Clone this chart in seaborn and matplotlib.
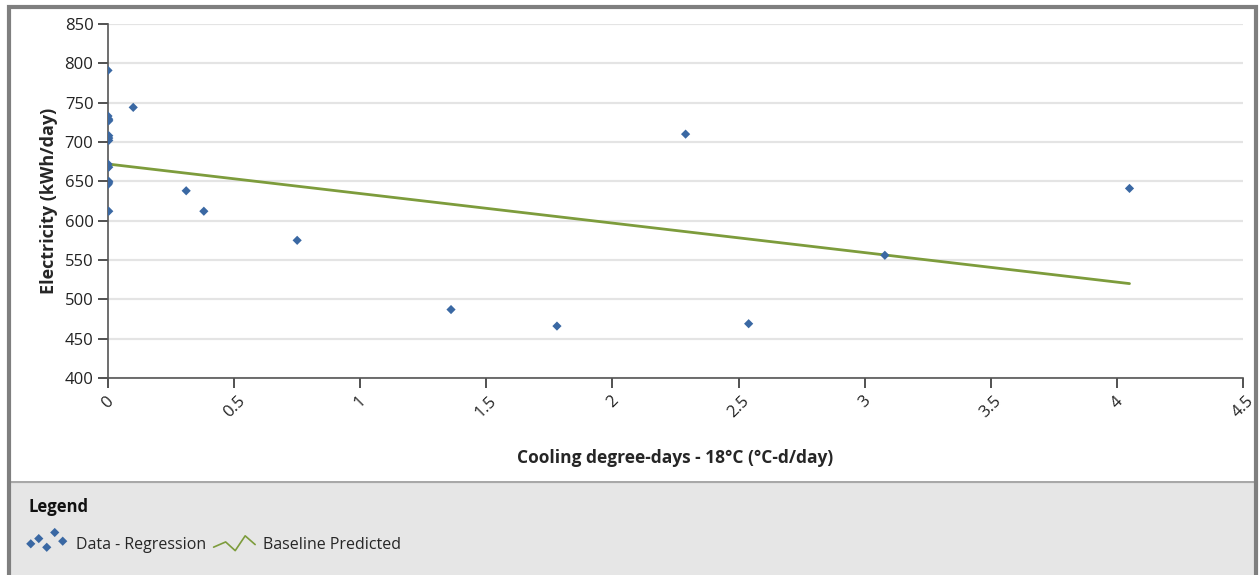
import numpy as np
import pandas as pd
import seaborn as sns
import matplotlib.pyplot as plt
from matplotlib.lines import Line2D
from matplotlib.legend_handler import HandlerBase
from matplotlib.patches import Rectangle

# leituras do gráfico original
cdd = [0.0, 0.0, 0.003, 0.003, 0.003, 0.003, 0.003, 0.0, 0.003, 0.003, 0.003, 0.0, 0.003,
       0.10, 0.31, 0.38, 0.75, 1.36, 1.78, 2.29, 2.54, 3.08, 4.05]
kwh = [791, 733, 729, 727, 708, 705, 702, 672, 668, 650, 648, 646, 612,
       744, 638, 612, 575, 487, 466, 710, 469, 556, 641]

# linha de base prevista (extremos)
base_x = [0.0, 4.05]
base_y = [672, 520]

x_ticks = [0, 0.5, 1, 1.5, 2, 2.5, 3, 3.5, 4, 4.5]
x_labels = ["0", "0.5", "1", "1.5", "2", "2.5", "3", "3.5", "4", "4.5"]
y_ticks = [400, 450, 500, 550, 600, 650, 700, 750, 800, 850]

df = pd.DataFrame({"cdd": cdd, "kwh": kwh})
df_base = pd.DataFrame({"cdd": base_x, "kwh": base_y})

sns.set_style("white")
plt.rcParams["font.family"] = ["Open Sans", "DejaVu Sans"]

blue = "#3a68a3"
green = "#7d9c3c"


class ZigZag(HandlerBase):
    def create_artists(self, legend, orig, xdescent, ydescent, width, height, fontsize, trans):
        fx = np.array([0, 0.29, 0.52, 0.76, 1.0])
        fy = np.array([0.3, 0.6, 0.1, 0.95, 0.45])
        ln = Line2D(fx * width - xdescent, fy * height - ydescent,
                    color=green, lw=1.2)
        ln.set_transform(trans)
        return [ln]


fig = plt.figure(figsize=(12.6, 5.75), dpi=100)
ax = fig.add_axes([108 / 1260, 1 - 378 / 575, (1243 - 108) / 1260, (378 - 24) / 575])

sns.lineplot(data=df_base, x="cdd", y="kwh", ax=ax, color=green, lw=2, label="Baseline Predicted", zorder=2)
sns.scatterplot(data=df, x="cdd", y="kwh", ax=ax, marker="D", s=22, color=blue,
                edgecolor="none", label="Data - Regression", zorder=3)

ax.set_xlim(0, 4.5)
ax.set_ylim(400, 850)
ax.set_xticks(x_ticks)
ax.set_xticklabels(x_labels, rotation=45, ha="center")
ax.set_yticks(y_ticks)
ax.yaxis.grid(True, color="#e4e4e4", lw=1.6)
ax.set_axisbelow(True)
for s in ["top", "right"]:
    ax.spines[s].set_visible(False)
for s in ["left", "bottom"]:
    ax.spines[s].set_color("#555555")
    ax.spines[s].set_linewidth(1.2)
ax.tick_params(axis="both", direction="out", length=7, width=1.2, color="#333333",
               labelsize=12, labelcolor="#222222", left=True, bottom=True)
ax.tick_params(axis="x", pad=4)
ax.set_xlabel("Cooling degree-days - 18°C (°C-d/day)", fontsize=12.5, fontweight="bold", labelpad=20)
ax.set_ylabel("Electricity (kWh/day)", fontsize=13, fontweight="bold", labelpad=5)

h, l = ax.get_legend_handles_labels()
hd = dict(zip(l, h))
ax.get_legend().remove()

# painel da legenda
lax = fig.add_axes([11 / 1260, 0, (1255 - 11) / 1260, (575 - 481) / 575])
lax.set_facecolor("#e6e6e6")
lax.set_xticks([])
lax.set_yticks([])
for s in lax.spines.values():
    s.set_visible(False)
lax.axhline(1, color="#a8a8a8", lw=3)
lax.text(17 / 1244, 1 - 26 / 94, "Legend", fontsize=12, fontweight="bold", va="center",
         color="#111111", transform=lax.transAxes)
lax.legend([hd["Data - Regression"], hd["Baseline Predicted"]],
           ["Data - Regression", "Baseline Predicted"],
           handler_map={hd["Baseline Predicted"]: ZigZag()},
           loc="center left", bbox_to_anchor=(18 / 1260, 1 - 544 / 575),
           bbox_transform=fig.transFigure, ncol=2, frameon=False,
           fontsize=11.5, scatterpoints=5, scatteryoffsets=[0.3, 0.6, 0.1, 0.95, 0.45],
           handlelength=2.6, handleheight=1.3, handletextpad=0.5, columnspacing=0.5, borderpad=0)

# moldura
fig.patches.append(Rectangle((8.5 / 1260, -0.01), (1256 - 8.5) / 1260, 1 - 6.5 / 575 + 0.01,
                             transform=fig.transFigure, facecolor="none",
                             edgecolor="#7f7f7f", lw=3, zorder=5))

fig.savefig("out.png", dpi=100)
